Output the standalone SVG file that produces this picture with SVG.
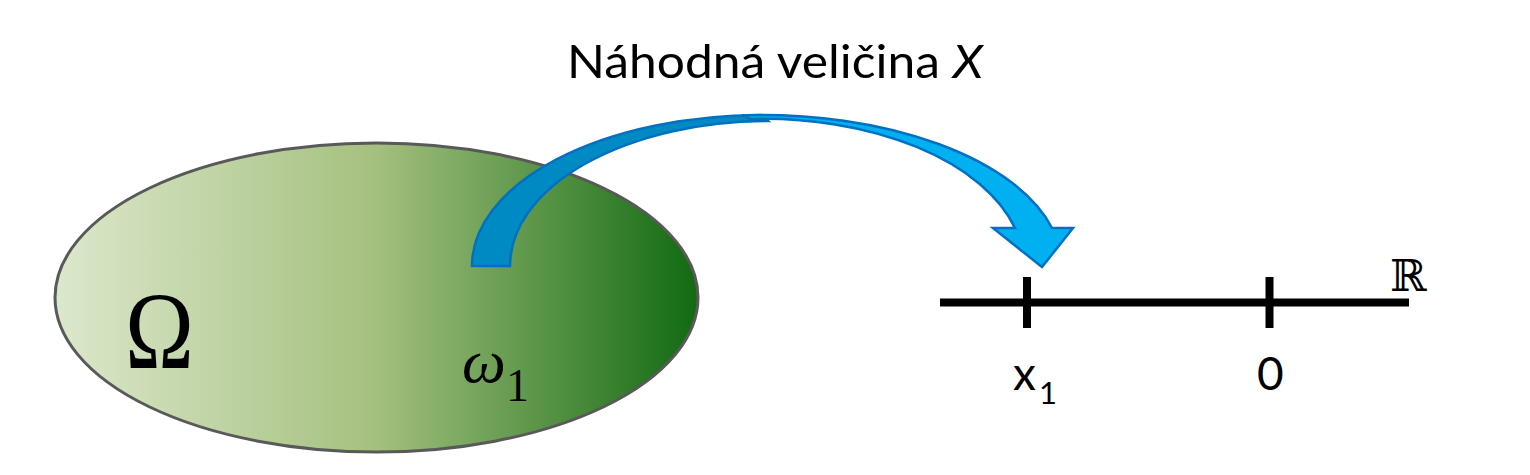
<svg xmlns="http://www.w3.org/2000/svg" width="1530" height="475" viewBox="0 0 1530 475">
<defs>
<linearGradient id="g" x1="0" y1="0" x2="1" y2="0">
<stop offset="0" stop-color="#DCE8CC"/>
<stop offset="0.5" stop-color="#A4C07E"/>
<stop offset="1" stop-color="#116A12"/>
</linearGradient>
<style>
.lbl{font-family:Lato,"Open Sans",sans-serif;fill:#000}
.math{font-family:"Liberation Serif","DejaVu Serif",serif;fill:#000}
.axis{stroke:#000;stroke-width:8;fill:none}
.arr{stroke:#0070C0;stroke-width:2.5;stroke-linejoin:miter}
</style>
</defs>
<rect width="1530" height="475" fill="#fff"/>
<g id="omega-set">
<ellipse cx="376.5" cy="297.5" rx="321.5" ry="154.5" fill="url(#g)" stroke="#595959" stroke-width="3"/>
<text class="math" x="125" y="368" font-size="110" textLength="69" lengthAdjust="spacingAndGlyphs">Ω</text>
<text class="math" x="462" y="382" font-size="62" font-style="italic">ω</text>
<text class="math" x="506" y="401" font-size="46">1</text>
</g>
<g id="title">
<text class="lbl" x="567" y="78" font-size="47" textLength="416" lengthAdjust="spacingAndGlyphs">Náhodná veličina <tspan font-style="italic">X</tspan></text>
</g>
<g id="connectors">
<path class="arr" fill="#008AC4" d="M472,266 A290,151 0 0 1 761,115 L768,121 A258,145 0 0 0 510,266 Z"/>
<path class="arr" fill="#00B0F0" d="M745,115.2 A300,151 0 0 1 1052,228 L1073,228 L1042,267 L993,228 L1015,228 A260,147 0 0 0 750,119 Z"/>
</g>
<g id="real-line">
<line class="axis" x1="940" y1="302.5" x2="1409" y2="302.5"/>
<line class="axis" x1="1027" y1="277" x2="1027" y2="328"/>
<line class="axis" x1="1269.5" y1="277" x2="1269.5" y2="328"/>
<text x="1390" y="291" font-size="44" font-family="'DejaVu Serif','DejaVu Sans',serif">ℝ</text>
<text class="lbl" x="1013" y="390" font-size="46">x</text>
<text class="lbl" x="1039" y="404" font-size="31">1</text>
<text class="lbl" x="1257" y="390" font-size="46">0</text>
</g>
</svg>
